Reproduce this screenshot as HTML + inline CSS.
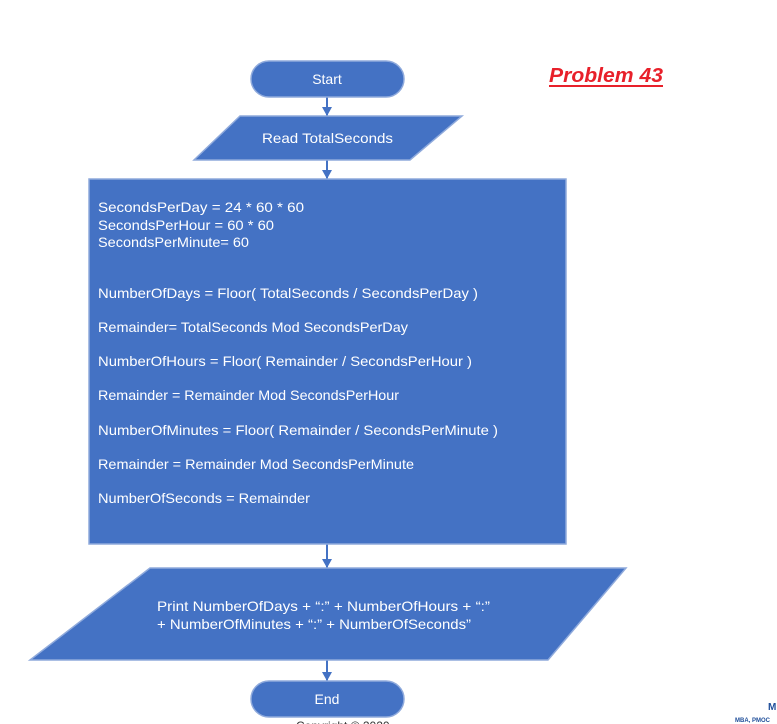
<!DOCTYPE html>
<html><head><meta charset="utf-8"><style>
html,body{margin:0;padding:0;background:#fff;}
svg{display:block;}
text{font-family:"Liberation Sans",sans-serif;}
</style></head><body>
<svg width="777" height="724" viewBox="0 0 777 724" xmlns="http://www.w3.org/2000/svg">
<defs><marker id="a" markerWidth="8" markerHeight="8" refX="4" refY="6" orient="auto" markerUnits="userSpaceOnUse"><path d="M0,0 L8,0 L4,7 z" fill="#4472C4"/></marker></defs>
<g stroke="#4472C4" stroke-width="2" fill="none">
<line x1="327" y1="97" x2="327" y2="116"/>
<line x1="327" y1="160" x2="327" y2="179"/>
<line x1="327" y1="544" x2="327" y2="568"/>
<line x1="327" y1="660" x2="327" y2="681"/>
</g>
<g fill="#4472C4">
<path d="M322,107 L332,107 L327,116 z"/>
<path d="M322,170 L332,170 L327,179 z"/>
<path d="M322,559 L332,559 L327,568 z"/>
<path d="M322,672 L332,672 L327,681 z"/>
</g>
<g fill="#4472C4" stroke="#8FAADC" stroke-width="1.5">
<rect x="251" y="61" width="153" height="36" rx="18"/>
<path d="M240,116 L462,116 L410,160 L194,160 z"/>
<rect x="89" y="179" width="477" height="365"/>
<path d="M150,568 L626,568 L548,660 L30,660 z"/>
<rect x="251" y="681" width="153" height="36" rx="18"/>
</g>
<g fill="#fff" font-size="14">
<text x="327" y="84" text-anchor="middle">Start</text>
<text x="262" y="143" textLength="131" lengthAdjust="spacingAndGlyphs">Read  TotalSeconds</text>
<text x="98" y="212" textLength="206" lengthAdjust="spacingAndGlyphs">SecondsPerDay =  24 * 60 * 60</text>
<text x="98" y="230" textLength="176" lengthAdjust="spacingAndGlyphs">SecondsPerHour = 60 * 60</text>
<text x="98" y="247" textLength="151" lengthAdjust="spacingAndGlyphs">SecondsPerMinute= 60</text>
<text x="98" y="298" textLength="380" lengthAdjust="spacingAndGlyphs">NumberOfDays = Floor( TotalSeconds / SecondsPerDay )</text>
<text x="98" y="332" textLength="310" lengthAdjust="spacingAndGlyphs">Remainder= TotalSeconds Mod SecondsPerDay</text>
<text x="98" y="366" textLength="374" lengthAdjust="spacingAndGlyphs">NumberOfHours = Floor( Remainder / SecondsPerHour )</text>
<text x="98" y="400" textLength="301" lengthAdjust="spacingAndGlyphs">Remainder = Remainder Mod SecondsPerHour</text>
<text x="98" y="435" textLength="400" lengthAdjust="spacingAndGlyphs">NumberOfMinutes = Floor( Remainder / SecondsPerMinute )</text>
<text x="98" y="469" textLength="316" lengthAdjust="spacingAndGlyphs">Remainder = Remainder Mod SecondsPerMinute</text>
<text x="98" y="503" textLength="212" lengthAdjust="spacingAndGlyphs">NumberOfSeconds = Remainder</text>
<text x="157" y="611" textLength="333" lengthAdjust="spacingAndGlyphs">Print NumberOfDays  + “:” + NumberOfHours + “:”</text>
<text x="157" y="629" textLength="314" lengthAdjust="spacingAndGlyphs">+ NumberOfMinutes + “:” + NumberOfSeconds”</text>
<text x="327" y="704" text-anchor="middle">End</text>
</g>
<text x="549" y="82" font-size="20" font-weight="bold" font-style="italic" fill="#E8202A" textLength="114" lengthAdjust="spacingAndGlyphs">Problem 43</text>
<line x1="549" y1="86" x2="663" y2="86" stroke="#E8202A" stroke-width="2"/>
<text x="296" y="730" font-size="12" fill="#333">Copyright © 2020</text>
<text x="768" y="710" font-size="10" font-weight="bold" fill="#1F4E9A">M</text>
<text x="735" y="722" font-size="6" font-weight="bold" fill="#1F4E9A">MBA, PMOC</text>
</svg>
</body></html>
